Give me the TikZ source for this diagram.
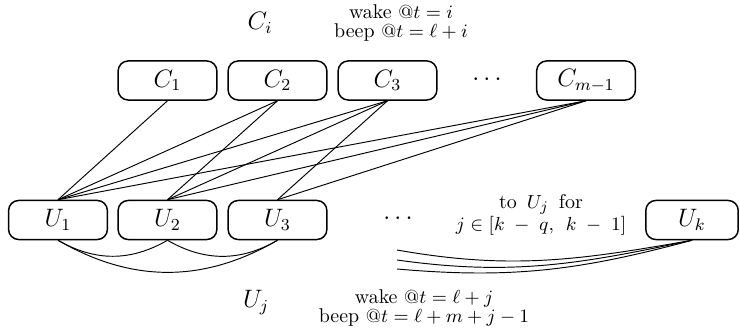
\documentclass[tikz,border=0pt]{standalone}
\begin{document}
\begin{tikzpicture}[x=0.476pt,y=0.476pt,
  box/.style={draw,line width=0.7pt,rounded corners=4.8pt,minimum width=47pt,minimum height=18.6pt,inner sep=0pt,font=\large},
  lbl/.style={align=center,font={\fontsize{9.5}{9.4}\selectfont},inner sep=0pt},
  big/.style={font=\large,inner sep=0pt},
  link/.style={line width=0.45pt}]
\useasboundingbox (0,0) rectangle (740,330);
% top row
\node[box] (C1) at (167.5,249.5) {$C_1$};
\node[box] (C2) at (277.5,249.5) {$C_2$};
\node[box] (C3) at (387.5,249.5) {$C_3$};
\node[big] (cdots) at (487,250) {$\cdots$};
\node[box] (Cm) at (586,249.5) {$C_{m-1}$};
% bottom row
\node[box] (U1) at (58,110) {$U_1$};
\node[box] (U2) at (167.5,110) {$U_2$};
\node[box] (U3) at (277.5,110) {$U_3$};
\node[big] (udots) at (398,111) {$\cdots$};
\node[box,minimum width=44pt] (Uk) at (692,110) {$U_k$};
% labels
\node[big] (Ci) at (260,307) {$C_i$};
\node[lbl] (Ctext) at (401,307) {wake $@t = i$\\ beep $@t = \ell + i$};
\node[big] (Uj) at (256,27.5) {$U_j$};
\node[lbl] (Utext) at (424,22) {wake $@t = \ell + j$\\ beep $@t = \ell + m + j - 1$};
\node[lbl] (tolbl) at (541,115) {to\enspace$U_j$\enspace for\\ $j \in [k \;-\; q, \;\, k \;-\; 1]$};
% C to U links
\draw[link] (C1.south) -- (U1.north);
\draw[link] (C2.south) -- (U1.north);
\draw[link] (C2.south) -- (U2.north);
\draw[link] (C3.south) -- (U1.north);
\draw[link] (C3.south) -- (U2.north);
\draw[link] (C3.south) -- (U3.north);
\draw[link] (Cm.south) -- (U1.north);
\draw[link] (Cm.south) -- (U2.north);
\draw[link] (Cm.south) -- (U3.north);
% U to U curves
\draw[link] (U1.south) to[out=-30,in=-150] (U2.south);
\draw[link] (U2.south) to[out=-30,in=-150] (U3.south);
\draw[link] (U1.south) to[out=-30,in=-150] (U3.south);
% Uk curves
\coordinate (e1) at (397,80);
\coordinate (e2) at (397,70);
\coordinate (e3) at (397,61);
\draw[link] (Uk.south) to[out=190,in=-10] (e1);
\draw[link] (Uk.south) to[out=192,in=-8] (e2);
\draw[link] (Uk.south) to[out=195,in=-5] (e3);
\end{tikzpicture}
\end{document}
